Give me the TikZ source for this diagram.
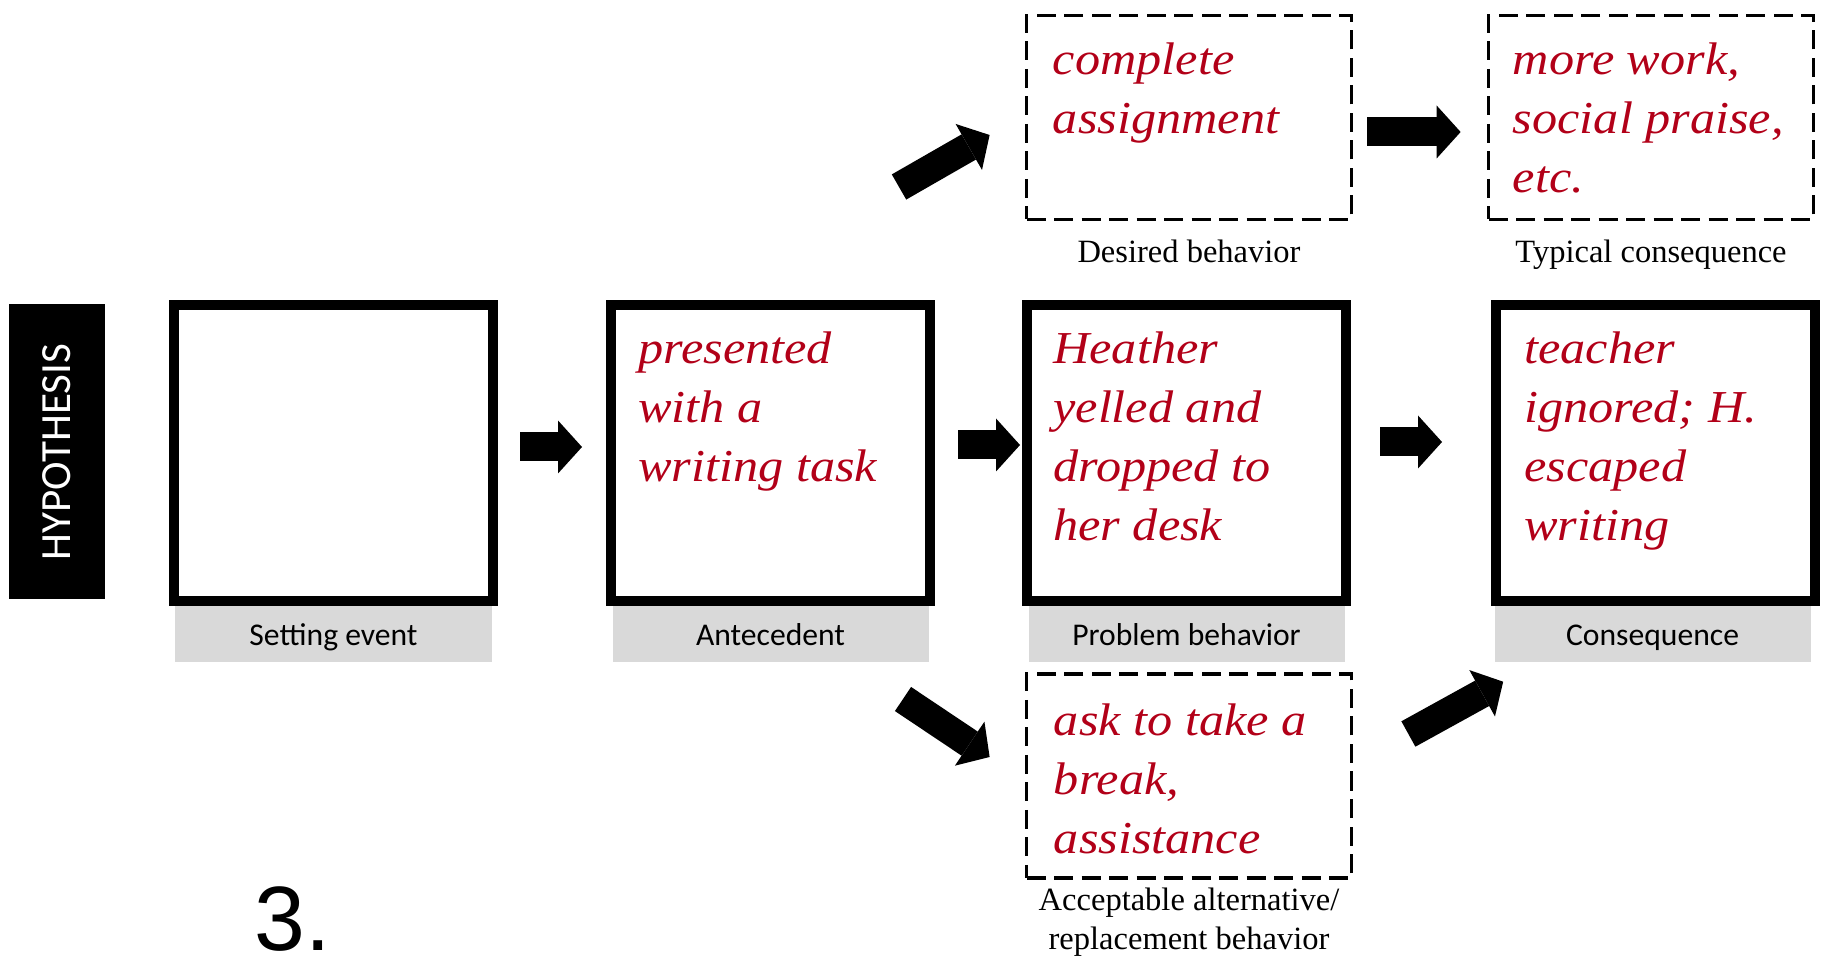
\documentclass[tikz,border=0pt]{standalone}
\usepackage{fontspec}
\usepackage{tikz}
\usepackage{xcolor}
\usetikzlibrary{arrows.meta,positioning}
\setmainfont{Liberation Serif}
\newfontfamily\answerserif[FakeStretch=1.1]{Liberation Serif}
\newfontfamily\calibri{Carlito}
\newfontfamily\arialfont{Liberation Sans}
\definecolor{answer}{RGB}{178, 0, 24}
\definecolor{tagfill}{RGB}{217, 217, 217}
\tikzstyle{stage} = [
    rectangle,
    draw=black,
    line width=2mm,
    minimum width=63.8mm,
    minimum height=59.2mm,
    inner sep=0pt
]
\tikzstyle{option} = [
    rectangle,
    draw=black,
    line width=0.75mm,
    dash pattern=on 3.8mm off 1.7mm,
    minimum width=65mm,
    minimum height=40.8mm,
    inner sep=0pt
]
\tikzstyle{tag} = [
    rectangle,
    fill=tagfill,
    minimum width=63.2mm,
    minimum height=11.2mm,
    inner sep=0pt,
    text height=15pt,
    text depth=2.4pt,
    font=\calibri\fontsize{18}{22}\selectfont
]
\tikzstyle{answertext} = [
    anchor=north west,
    inner sep=0pt,
    align=left,
    text=answer,
    font=\answerserif\itshape\fontsize{26}{33.6}\selectfont
]
\tikzstyle{caption} = [
    inner sep=0pt,
    align=center,
    font=\fontsize{18.5}{21.8}\selectfont
]
\tikzstyle{blockarrow} = [
    line width=5.8mm,
    -{Triangle[length=4.8mm, width=10.6mm, line width=0pt]}
]

\begin{document}
\begin{tikzpicture}[x=0.2mm, y=-0.2mm]
    \useasboundingbox (0,0) rectangle (1826,966);

    \node[fill=black, rotate=90, minimum width=59mm, minimum height=19.2mm, inner sep=0pt,
          text=white, font=\calibri\fontsize{24.5}{28}\selectfont] (hyp) at (57,452) {HYPOTHESIS};

    % main chain
    \node[stage] (setting) at (333.5,453) {};
    \node[stage, right=21.6mm of setting] (ante) {};
    \node[stage, right=17.4mm of ante] (prob) {};
    \node[stage, right=28mm of prob] (cons) {};

    \node[tag, below=0pt of setting] (settingTag) {Setting event};
    \node[tag, below=0pt of ante] (anteTag) {Antecedent};
    \node[tag, below=0pt of prob] (probTag) {Problem behavior};
    \node[tag, below=0pt of cons, xshift=-0.6mm] (consTag) {Consequence};

    \node[answertext] (anteText) at ([shift={(32,31)}]ante.north west) {presented\\with a\\writing task};
    \node[answertext] (probText) at ([shift={(31,31)}]prob.north west) {Heather\\yelled and\\dropped to\\her desk};
    \node[answertext] (consText) at ([shift={(33,31)}]cons.north west) {teacher\\ignored; H.\\escaped\\writing};

    % alternatives
    \node[option] (desired) at (1189,117.5) {};
    \node[option] (typical) at (1651,117.5) {};
    \node[option] (altern) at (1189,776) {};

    \node[answertext] (desiredText) at ([shift={(28,29)}]desired.north west) {complete\\assignment};
    \node[answertext] (typicalText) at ([shift={(26,29)}]typical.north west) {more work,\\social praise,\\etc.};
    \node[answertext] (alternText) at ([shift={(29,31)}]altern.north west) {ask to take a\\break,\\assistance};

    \node[caption, below=3.6mm of desired] (desiredCap) {Desired behavior};
    \node[caption, below=3.6mm of typical] (typicalCap) {Typical consequence};
    \node[caption, below=1.6mm of altern] (alternCap) {Acceptable alternative/\\replacement behavior};

    \node[anchor=base west, inner sep=0pt, text depth=0pt, font=\arialfont\fontsize{52}{60}\selectfont] (step3) at (254,951) {3.};

    \draw[blockarrow, shorten <=4.4mm, shorten >=4.8mm] ([yshift=1.2mm]setting.east) -- ([yshift=1.2mm]ante.west);
    \draw[blockarrow, shorten <=4.6mm, shorten >=0.4mm] ([yshift=1.6mm]ante.east) -- ([yshift=1.6mm]prob.west);
    \draw[blockarrow, shorten <=5.8mm, shorten >=9.8mm] ([yshift=2.2mm]prob.east) -- ([yshift=2.2mm]cons.west);
    \draw[blockarrow, shorten <=2.8mm, shorten >=5.2mm] ([yshift=-2.9mm]desired.east) -- ([yshift=-2.9mm]typical.west);
    \draw[blockarrow] ([shift={(-36,-113)}]ante.north east) -- ([shift={(-35,17.5)}]desired.west);
    \draw[blockarrow] ([shift={(-32,93)}]ante.south east) -- ([shift={(-35,-19)}]altern.west);
    \draw[blockarrow] ([shift={(55,-42)}]altern.east) -- ([shift={(9,19)}]consTag.south west);
\end{tikzpicture}
\end{document}
